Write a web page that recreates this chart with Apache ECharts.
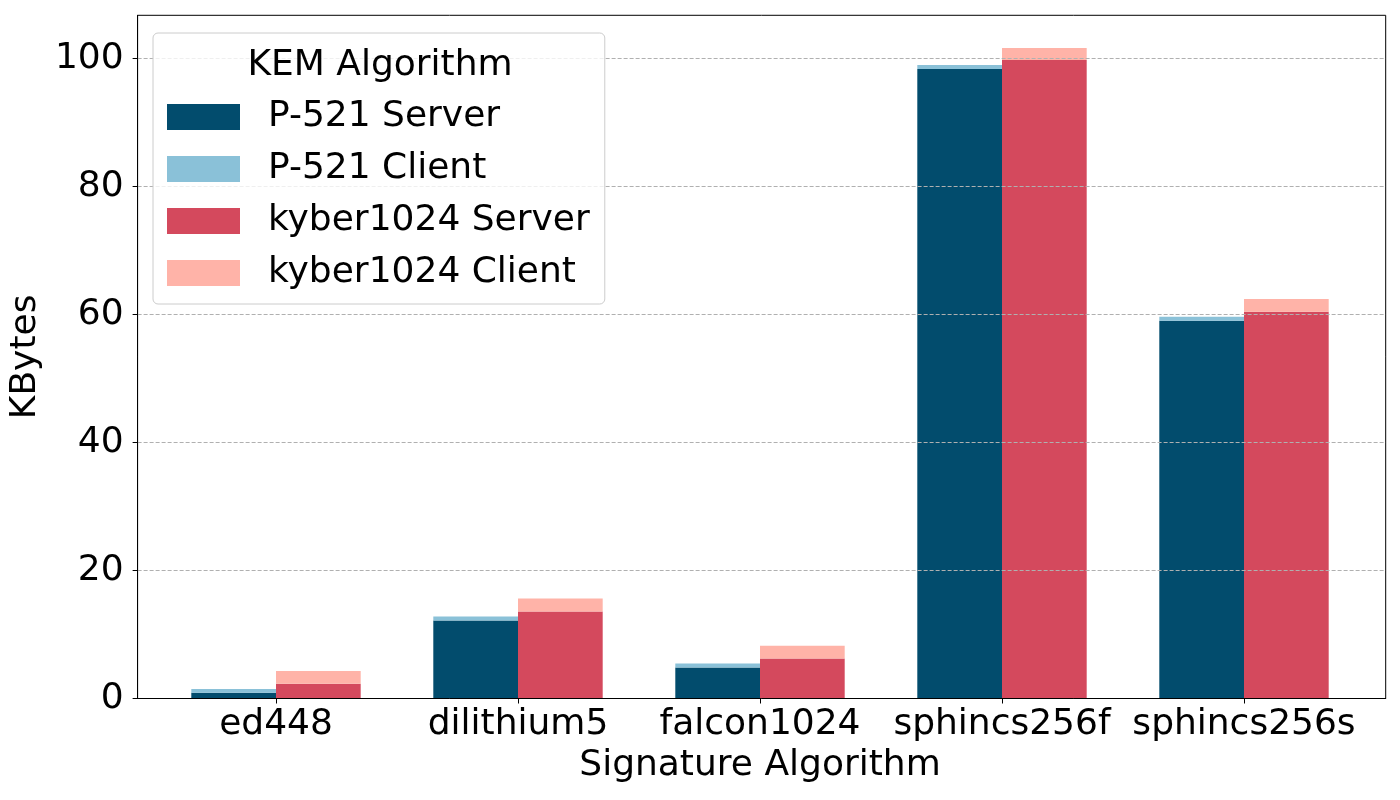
<!DOCTYPE html>
<html>
<head>
<meta charset="utf-8">
<script src="https://cdn.jsdelivr.net/npm/echarts@6/dist/echarts.min.js"></script>
<style>
html,body{margin:0;padding:0;background:#fff;}
#chart{width:1400px;height:800px;}
</style>
</head>
<body>
<div id="chart"></div>
<script>
const categories = ['ed448', 'dilithium5', 'falcon1024', 'sphincs256f', 'sphincs256s'];
const p521Server = [0.9, 12.2, 4.85, 98.3, 59.0];
const p521Client = [0.6, 0.62, 0.62, 0.63, 0.62];
const kyberServer = [2.3, 13.6, 6.25, 99.7, 60.4];
const kyberClient = [2.0, 2.0, 2.0, 1.9, 2.0];
const yTicks = [0, 20, 40, 60, 80, 100];
const seriesNames = ['P-521 Server', 'P-521 Client', 'kyber1024 Server', 'kyber1024 Client'];

const FONT = 'DejaVu Sans';
const FS = 36;
const Y_MAX = 106.7;
const gridTop = 15.3, gridBottom = 101.5;

const chart = echarts.init(document.getElementById('chart'), null, {renderer: 'canvas'});
chart.setOption({
  animation: false,
  backgroundColor: '#fff',
  textStyle: {fontFamily: FONT},
  title: {
    text: 'KEM Algorithm',
    left: 375, top: 43, textAlign: 'center',
    textStyle: {fontFamily: FONT, fontSize: FS, fontWeight: 'normal', color: '#000'},
    z: 10
  },
  legend: {
    data: seriesNames,
    orient: 'vertical',
    left: 153, top: 33,
    icon: 'rect',
    itemWidth: 73, itemHeight: 26,
    itemGap: 16,
    padding: [66, 15, 13, 14],
    backgroundColor: 'rgba(255,255,255,0.8)',
    borderColor: '#cccccc', borderWidth: 1, borderRadius: 5,
    textStyle: {fontFamily: FONT, fontSize: FS, color: '#000', padding: [0, 0, 0, 23], lineHeight: 36},
    itemStyle: {borderWidth: 0},
    z: 8
  },
  grid: [
    {left: 155, right: 35, top: gridTop, bottom: gridBottom},
    {left: 135.5, right: 14.3, top: gridTop, bottom: gridBottom, show: true, borderColor: '#000', borderWidth: 1, backgroundColor: 'transparent'}
  ],
  xAxis: [
    {
      type: 'category', gridIndex: 0, data: categories,
      boundaryGap: true,
      axisLine: {show: true, lineStyle: {color: 'rgba(0,0,0,0)', width: 1}},
      axisTick: {show: true, alignWithLabel: true, length: 5, lineStyle: {color: '#000', width: 1}},
      axisLabel: {fontFamily: FONT, fontSize: FS, color: '#000', margin: 8, interval: 0, hideOverlap: false},
      name: 'Signature Algorithm', nameLocation: 'middle', nameGap: 48,
      nameTextStyle: {fontFamily: FONT, fontSize: FS, color: '#000'},
      z: 6
    },
    {
      type: 'value', gridIndex: 1, min: 0, max: 1,
      axisLine: {show: true, lineStyle: {color: '#000', width: 1}},
      axisTick: {show: false}, axisLabel: {show: false}, splitLine: {show: false},
      z: 6
    }
  ],
  yAxis: [
    {
      type: 'value', gridIndex: 0, min: 0, max: Y_MAX,
      show: false, splitLine: {show: false}
    },
    {
      type: 'value', gridIndex: 1, min: 0, max: Y_MAX,
      axisLine: {show: true, lineStyle: {color: '#000', width: 1}},
      axisTick: {show: true, length: 5, lineStyle: {color: '#000', width: 1}, customValues: yTicks},
      axisLabel: {fontFamily: FONT, fontSize: FS, color: '#000', margin: 14, customValues: yTicks},
      splitLine: {show: true, lineStyle: {color: '#b0b0b0', width: 1, type: [4, 2]}},
      name: 'KBytes', nameLocation: 'middle', nameGap: 78, nameRotate: 90,
      nameTextStyle: {fontFamily: FONT, fontSize: FS, color: '#000'},
      z: 5
    }
  ],
  series: [
    {name: seriesNames[0], type: 'bar', xAxisIndex: 0, yAxisIndex: 0, stack: 'p521', data: p521Server,
     barWidth: '35%', barGap: '0%', itemStyle: {color: '#024c6d'}},
    {name: seriesNames[1], type: 'bar', xAxisIndex: 0, yAxisIndex: 0, stack: 'p521', data: p521Client,
     barWidth: '35%', barGap: '0%', itemStyle: {color: '#8ac1d8'}},
    {name: seriesNames[2], type: 'bar', xAxisIndex: 0, yAxisIndex: 0, stack: 'kyber', data: kyberServer,
     barWidth: '35%', barGap: '0%', itemStyle: {color: '#d4495d'}},
    {name: seriesNames[3], type: 'bar', xAxisIndex: 0, yAxisIndex: 0, stack: 'kyber', data: kyberClient,
     barWidth: '35%', barGap: '0%', itemStyle: {color: '#ffb3a8'}}
  ]
});
</script>
</body>
</html>
